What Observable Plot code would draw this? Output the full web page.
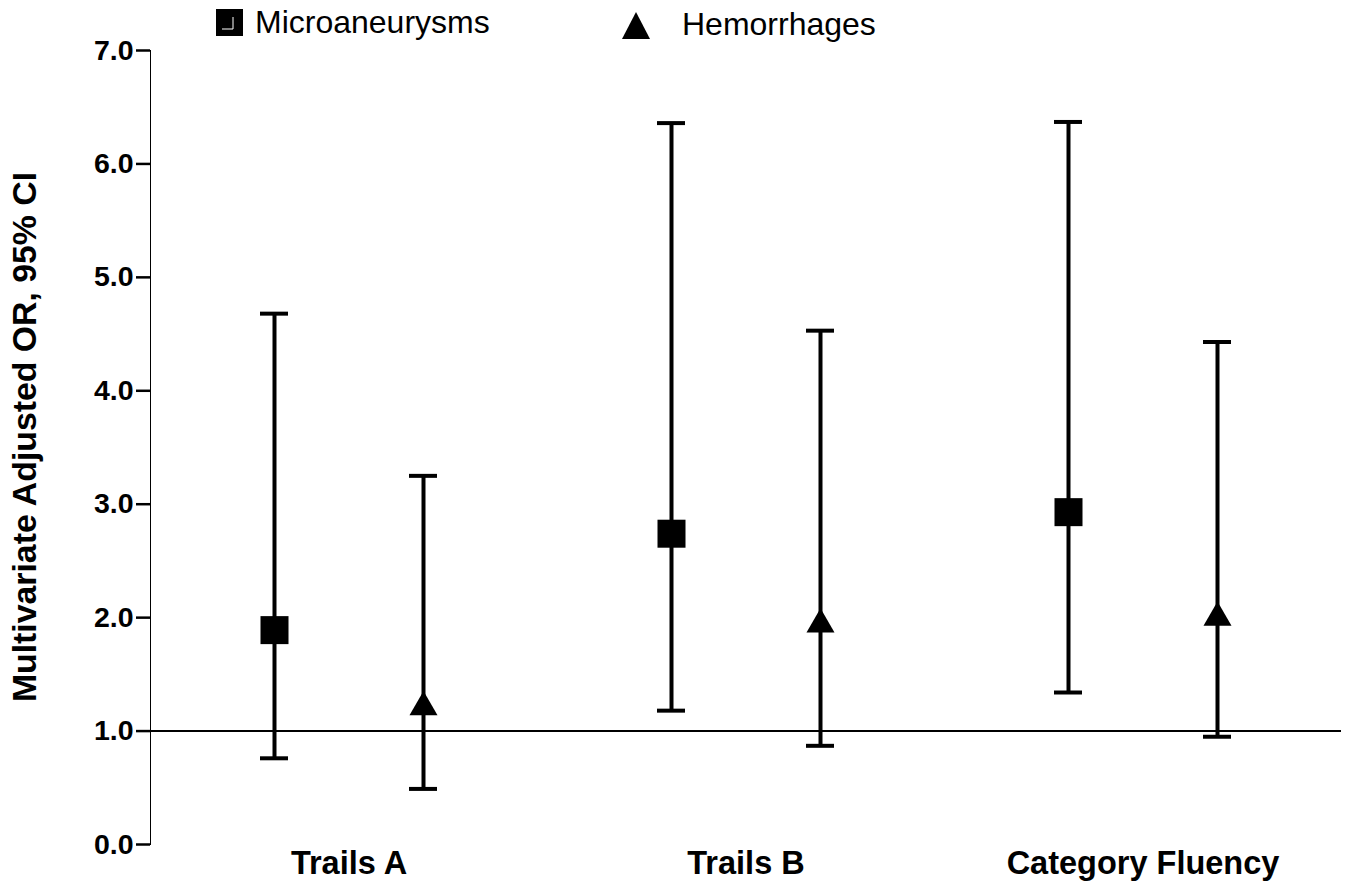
<!DOCTYPE html>
<html><head><meta charset="utf-8">
<script src="https://cdn.jsdelivr.net/npm/d3@7"></script>
<script src="https://cdn.jsdelivr.net/npm/@observablehq/plot@0.6"></script>
<style>
body{margin:0;background:#fff;font-family:"Liberation Sans",Arial,sans-serif}
#wrap{position:relative;width:1351px;height:884px}
#wrap > svg.overlay{position:absolute;left:0;top:0;pointer-events:none}
g[aria-label="y-axis tick label"]{font-size:28.5px;font-weight:bold}
g[aria-label="fx-axis tick label"]{font-size:32.5px;font-weight:bold}
g[aria-label="y-axis tick"]{stroke-width:2.5px}
g[aria-label="y-axis line"]{stroke-width:2.5px}
</style></head>
<body><div id="wrap"></div>
<script>
const tests = ["Trails A", "Trails B", "Category Fluency"];
const series = ["Microaneurysms", "Hemorrhages"];
const orMicro = [1.89, 2.74, 2.93];
const lowMicro = [0.76, 1.18, 1.34];
const highMicro = [4.68, 6.36, 6.37];
const orHem = [1.21, 1.94, 2.00];
const lowHem = [0.49, 0.87, 0.95];
const highHem = [3.25, 4.53, 4.43];
const refValue = [1];

const rows = [];
tests.forEach((t, i) => {
  rows.push({test: t, series: series[0], or: orMicro[i], low: lowMicro[i], high: highMicro[i]});
  rows.push({test: t, series: series[1], or: orHem[i], low: lowHem[i], high: highHem[i]});
});
const micro = rows.filter(d => d.series === series[0]);
const hem = rows.filter(d => d.series === series[1]);

const chart = Plot.plot({
  width: 1351, height: 884,
  marginTop: 50, marginBottom: 40, marginLeft: 150, marginRight: 10,
  style: {background: "white", color: "black", fontFamily: "'Liberation Sans', Arial, sans-serif", overflow: "visible"},
  facet: {marginTop: 0, marginBottom: 0, marginLeft: 0, marginRight: 0},
  facetMarginTop: 0, facetMarginBottom: 0, facetMarginLeft: 0, facetMarginRight: 0,
  fx: {domain: tests, padding: 0, axis: "bottom", tickSize: 0, tickPadding: 6, label: null},
  x: {domain: series, type: "band", paddingInner: 0.812, paddingOuter: 0.738, axis: null},
  y: {domain: [0, 7], ticks: 7, tickFormat: d3.format(".1f"), tickSize: 14, tickPadding: 3, label: null, line: true},
  marks: [
    Plot.ruleX(rows, {fx: "test", x: "series", y1: "low", y2: "high", stroke: "black", strokeWidth: 4}),
    Plot.tickY(rows, {fx: "test", x: "series", y: "low", stroke: "black", strokeWidth: 4}),
    Plot.tickY(rows, {fx: "test", x: "series", y: "high", stroke: "black", strokeWidth: 4}),
    Plot.ruleY(refValue, {stroke: "black", strokeWidth: 2}),
    Plot.dot(micro, {fx: "test", x: "series", y: "or", symbol: "square", r: 15.8, fill: "black", stroke: "none"}),
    Plot.dot(hem, {fx: "test", x: "series", y: "or", symbol: "triangle", r: 10.4, fill: "black", stroke: "none"})
  ]
});
const wrap = document.getElementById("wrap");
wrap.appendChild(chart);

const ns = "http://www.w3.org/2000/svg";
const ov = document.createElementNS(ns, "svg");
ov.setAttribute("class", "overlay");
ov.setAttribute("width", 1351); ov.setAttribute("height", 884);
ov.innerHTML = `
  <text transform="translate(36,437) rotate(-90)" text-anchor="middle" font-weight="bold" font-size="33.8" font-family="Liberation Sans, Arial, sans-serif">Multivariate Adjusted OR, 95% CI</text>
  <rect x="216" y="9" width="27" height="27" fill="black"/>
  <polyline points="233,17 233,29 222,29" fill="none" stroke="white" stroke-width="1"/>
  <text x="255" y="33" font-size="32" font-family="Liberation Sans, Arial, sans-serif">${series[0]}</text>
  <polygon points="622,39 650,39 636,12" fill="black"/>
  <text x="682" y="35" font-size="32" font-family="Liberation Sans, Arial, sans-serif">${series[1]}</text>`;
wrap.appendChild(ov);
</script>
</body></html>
